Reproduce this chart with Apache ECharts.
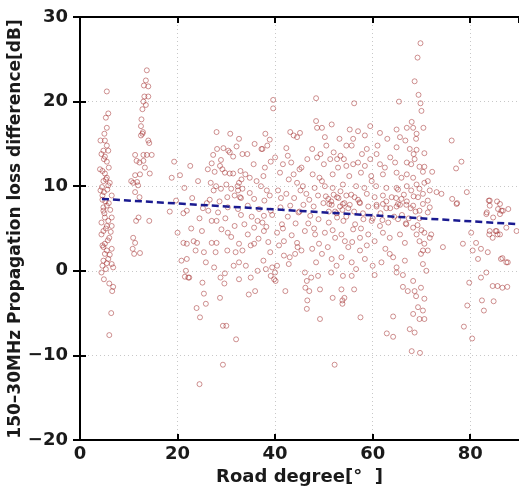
<!DOCTYPE html>
<html><head><meta charset="utf-8">
<script src="https://cdn.jsdelivr.net/npm/echarts@6/dist/echarts.min.js"></script>
<style>html,body{margin:0;padding:0;background:#fff}#c{width:519px;height:488px}</style>
</head><body><div id="c"></div>
<script>
const xTicks = [0,20,40,60,80];
const yTicks = [-20,-10,0,10,20,30];
const trendLine = [[4.5,8.5],[90,5.5]];
const ptsNear5 = [[5.5,21.2],[5.8,18.6],[5.3,18.1],[5.5,16.9],[4.2,15.4],[5.1,15.4],[5.5,14.8],[4.8,14.2],[5.8,14.2],[4.9,13.2],[5.5,12.9],[5.1,13.5],[4.1,12.0],[5.1,11.5],[5.5,11.0],[4.8,10.6],[6.1,10.4],[5.8,10.1],[4.2,9.5],[4.9,9.3],[4.6,8.9],[6.5,8.9],[4.8,7.5],[5.5,7.7],[4.8,7.1],[6.5,6.3],[5.1,6.3],[5.8,5.9],[6.5,5.3],[4.4,5.7],[5.5,5.3],[4.8,4.7],[4.4,4.3],[6.0,3.9],[5.1,3.2],[4.8,2.8],[5.5,2.4],[6.5,2.6],[5.1,2.0],[5.8,1.4],[4.8,1.2],[5.5,0.9],[6.5,0.8],[6.8,0.4],[4.6,0.6],[4.4,-0.2],[4.9,-1.0],[6.0,-1.5],[6.8,-1.9],[6.6,-2.4],[6.4,-5.0],[6.0,-7.6],[5.2,8.2],[5.9,8.0],[4.5,9.9],[5.6,9.6],[6.2,7.2],[5.0,6.8],[4.6,11.8],[5.3,10.8],[5.9,12.2],[4.4,13.8],[6.3,4.6],[5.7,3.6],[4.6,3.0],[6.1,1.9],[5.3,0.2],[5.0,16.2],[4.6,8.4],[5.3,5.0]];
const ptsNear13 = [[13.7,23.7],[13.5,22.5],[13.1,21.9],[14.0,21.8],[14.0,20.6],[13.2,20.6],[13.0,20.0],[13.5,19.6],[12.8,19.1],[12.6,17.9],[12.5,17.1],[12.8,16.2],[12.5,16.0],[14.0,15.4],[14.2,15.1],[11.3,13.7],[13.0,13.7],[13.7,13.7],[14.7,13.7],[11.6,13.0],[12.2,12.8],[13.0,13.0],[19.3,12.9],[14.3,11.5],[11.3,11.3],[12.3,11.4],[11.7,10.5],[10.9,10.4],[10.5,10.6],[11.9,10.1],[18.8,11.0],[11.3,9.3],[12.2,8.7],[19.7,8.3],[12.0,6.3],[11.5,5.9],[14.2,5.9],[10.9,3.9],[11.3,3.3],[10.8,2.6],[11.1,2.0],[12.3,2.1],[18.4,7.0],[12.9,16.4],[13.3,12.2]];
const ptsMid = [[20.0,4.5],[21.2,6.8],[21.9,7.1],[21.2,3.3],[21.9,3.2],[20.8,1.2],[21.9,1.4],[21.7,0],[21.5,-0.7],[22.2,-0.8],[20.5,11.3],[39.6,20.2],[39.6,19.2],[28.0,16.4],[32.6,15.6],[38.0,16.2],[38.9,15.5],[38.4,14.8],[37.2,14.4],[43.1,16.4],[43.8,16.0],[44.5,15.8],[27.3,13.7],[28.1,14.4],[29.4,14.5],[30.4,14.2],[30.7,14.0],[32.1,14.7],[33.3,13.8],[34.3,13.8],[31.4,13.5],[28.9,13.1],[27.0,12.7],[28.7,12.4],[29.7,11.6],[30.7,11.5],[31.4,11.5],[27.6,11.7],[29.2,12.0],[32.9,11.8],[33.9,11.4],[33.1,10.8],[32.6,10.4],[32.3,10.0],[33.3,9.7],[37.4,14.4],[39.1,12.9],[37.9,12.2],[37.6,11.2],[37.1,10.0],[38.3,9.5],[38.9,8.9],[42.3,14.5],[42.6,13.6],[41.6,12.6],[43.3,12.8],[45.0,12.0],[42.8,10.8],[44.5,10.4],[45.2,9.5],[26.8,10.4],[27.9,10.0],[27.4,9.5],[28.9,9.7],[31.0,9.7],[32.4,9.5],[31.7,8.9],[32.8,8.7],[30.2,8.7],[40.6,9.5],[42.3,9.1],[41.2,8.6],[43.9,8.6],[23.0,8.6],[26.6,8.4],[28.6,8.2],[33.0,8.6],[35.7,8.5],[37.8,8.3],[26.3,7.1],[28.3,6.9],[30.3,7.5],[32.4,7.3],[34.4,7.7],[36.7,7.3],[37.7,6.5],[39.1,7.1],[41.1,7.5],[43.1,7.7],[44.8,6.9],[25.0,4.7],[27.0,5.9],[28.0,5.9],[29.0,4.9],[30.3,4.5],[31.7,5.3],[33.7,5.5],[34.4,4.3],[35.7,5.1],[36.4,5.9],[37.4,5.7],[37.7,4.7],[23.3,3.5],[24.0,3.3],[27.0,3.3],[28.0,3.3],[32.6,3.2],[35.0,3.0],[35.7,3.2],[31.9,2.2],[33.3,2.4],[30.2,2.4],[23.7,2.4],[25.4,2.2],[25.8,1.0],[27.5,0.4],[29.7,-0.3],[31.5,0.6],[32.6,1.0],[34.0,0.6],[36.4,0],[38.1,0.2],[39.4,0.4],[40.4,0.6],[41.8,1.8],[42.8,0.8],[44.1,2.0],[44.5,3.3],[41.8,3.5],[40.4,4.5],[41.4,5.5],[22.4,-0.8],[25.1,-1.4],[28.8,-0.8],[29.6,-1.5],[32.6,-1.0],[35.0,-0.8],[39.1,-0.6],[39.8,-1.0],[40.1,-1.2],[25.4,-2.7],[25.8,-3.9],[23.9,-4.4],[24.6,-5.5],[28.7,-3.2],[34.6,-2.8],[35.9,-2.4],[42.1,-2.4],[29.3,-6.5],[30.0,-6.5],[32.0,-8.1],[29.3,-11.1],[24.5,-13.4],[40.0,-0.2],[36.6,3.8],[38.2,5.2],[39.4,6.6],[40.8,3.0],[41.6,5.0],[42.6,6.4],[43.4,4.2],[44.2,5.6],[45.0,7.0],[44.6,2.8],[43.0,1.6],[39.0,2.2],[37.6,1.2],[24.5,6.2],[22.8,5.0],[26.0,8.0],[29.8,6.2],[31.0,4.0],[33.0,6.6],[35.2,6.4],[34.8,9.2],[36.2,10.6],[35.6,12.6],[30.0,10.2],[26.2,12.0],[24.2,10.6],[22.6,12.4],[21.4,9.8],[41.0,11.6],[43.8,11.4],[40.0,13.4],[35.8,15.0],[34.8,11.0],[30.8,16.2],[25.2,7.4],[27.8,2.2],[38.6,3.4]];
const ptsMain = [[48.4,20.4],[56.2,19.8],[65.4,20.0],[59.5,17.1],[48.4,17.7],[51.6,17.3],[48.6,16.9],[49.6,16.9],[45.1,16.3],[50.2,15.8],[55.3,16.7],[57.0,16.5],[58.4,16.0],[56.0,15.6],[61.5,16.3],[64.9,16.7],[67.0,16.9],[65.6,15.8],[66.7,15.4],[50.5,14.8],[54.6,14.8],[55.7,14.8],[58.8,14.4],[60.8,13.8],[59.5,13.2],[64.9,14.6],[63.6,13.4],[47.6,14.4],[49.3,13.8],[48.6,13.4],[52.0,14.0],[53.4,13.6],[51.3,13.2],[52.7,13.2],[54.1,13.2],[57.0,12.8],[56.0,12.6],[58.4,12.4],[61.5,12.6],[62.5,12.2],[64.6,12.8],[67.0,12.8],[45.4,12.2],[47.7,11.4],[49.1,11.0],[51.8,11.4],[52.9,12.2],[54.6,12.4],[57.6,11.6],[59.7,11.2],[62.1,11.4],[64.9,11.6],[65.9,11.0],[67.0,11.4],[45.7,10.0],[48.1,9.8],[50.2,10.0],[51.8,9.8],[53.9,10.2],[56.6,10.0],[58.3,9.8],[60.7,10.0],[62.8,9.8],[64.9,9.8],[67.0,10.0],[46.4,9.1],[48.8,8.9],[50.9,8.5],[52.7,8.7],[54.6,8.9],[56.3,8.7],[58.8,9.1],[60.4,8.7],[62.1,8.9],[63.9,8.7],[65.9,8.5],[51.1,7.9],[53.9,7.9],[57.3,8.1],[62.1,7.9],[65.2,7.9],[45.8,7.8],[47.9,7.6],[49.9,8.0],[51.6,7.8],[53.3,7.6],[55.3,7.8],[57.4,8.0],[59.1,7.6],[60.8,7.8],[62.8,7.4],[64.9,7.6],[66.9,7.8],[47.2,6.5],[48.9,6.1],[51.0,5.7],[52.7,6.3],[54.0,5.9],[56.4,5.5],[58.1,6.1],[59.8,5.9],[61.5,5.3],[63.2,5.7],[65.2,6.1],[66.9,5.5],[46.1,4.7],[48.2,4.3],[50.2,4.5],[52.3,3.9],[53.6,4.3],[54.3,3.5],[56.0,4.9],[57.4,3.9],[59.1,4.3],[60.4,3.5],[62.1,4.5],[63.5,3.9],[65.6,4.3],[66.6,3.3],[45.4,2.4],[47.6,2.6],[49.6,2.0],[51.6,1.4],[53.6,1.6],[55.7,1.0],[57.4,2.4],[58.4,1.4],[61.8,1.0],[63.5,2.0],[64.9,0.4],[66.6,1.2],[46.1,-0.2],[47.4,-0.8],[48.8,-0.6],[51.5,-0.2],[53.9,-0.6],[55.7,-0.6],[60.4,-0.5],[64.9,-0.2],[66.2,-0.5],[46.5,-1.2],[46.2,-2.0],[47.0,-2.4],[49.2,-2.2],[53.6,-2.2],[56.2,-2.2],[51.8,-3.2],[54.2,-3.2],[53.8,-3.5],[46.6,-3.5],[53.8,-3.9],[66.2,-1.9],[67.2,-2.4],[46.5,-4.5],[49.2,-5.7],[57.5,-5.5],[64.2,-5.4],[62.9,-7.4],[64.2,-7.8],[67.6,-6.9],[52.2,-11.1],[68.0,-9.5],[69.7,-9.7],[69.8,26.9],[69.2,25.2],[68.6,22.4],[69.4,20.8],[69.8,19.8],[70.0,18.9],[68.0,17.6],[68.3,16.9],[69.0,16.2],[68.9,15.6],[70.4,16.9],[67.6,14.4],[69.0,14.3],[68.4,13.8],[68.6,13.2],[70.6,13.9],[67.9,12.6],[69.6,12.3],[70.6,12.3],[70.3,11.7],[68.3,11.0],[69.0,10.2],[70.6,10.4],[71.3,10.6],[69.6,9.7],[71.7,9.5],[67.9,9.5],[70.3,9.1],[69.3,8.7],[71.3,8.3],[68.3,7.7],[70.3,7.9],[71.7,7.5],[69.6,7.1],[71.3,6.9],[68.3,5.1],[69.0,4.3],[70.6,4.5],[69.6,3.5],[70.6,3.2],[71.7,3.9],[70.3,2.4],[69.9,2.0],[71.3,2.4],[70.3,0.8],[71.0,0],[68.3,-1.2],[68.6,-2.4],[69.9,-2.0],[68.9,-3.0],[70.6,-3.3],[69.3,-4.3],[70.3,-4.7],[69.6,-5.7],[70.6,-5.7],[68.3,-5.1],[68.6,-7.3],[51.5,8.2],[52.3,7.0],[53.0,8.6],[53.8,7.2],[52.6,6.8],[54.2,8.0],[51.0,7.0],[50.4,8.8],[55.0,7.4],[53.4,9.4],[52.0,9.0],[54.6,6.4],[56.2,7.0],[57.0,8.4],[55.6,9.0],[64.8,8.6],[65.6,7.8],[66.4,9.0],[67.0,8.2],[67.8,7.4],[66.0,6.6],[68.4,8.8],[65.2,9.6],[67.4,6.2],[68.8,7.0],[69.6,6.2],[69.2,5.4],[70.0,4.8],[66.8,5.6],[64.4,6.4],[63.6,7.4],[62.8,8.2],[61.6,6.8],[60.8,7.6],[60.0,6.2],[46.8,5.6],[49.0,3.2],[50.8,2.8],[55.0,2.8],[58.8,3.0],[62.6,2.6],[64.2,1.6],[60.0,0.6],[56.6,0.2],[52.6,0.6],[48.4,1.0],[50.0,12.6],[46.6,13.2],[61.0,14.8],[63.0,15.6],[57.8,13.8],[53.2,15.6],[59.8,10.6],[55.2,11.2],[49.6,10.6],[47.0,8.4],[58.0,6.8],[62.0,6.0],[57.6,5.0],[55.8,3.4],[51.8,4.8],[48.0,5.0]];
const ptsRight = [[76.2,15.4],[78.2,12.9],[77.1,12.1],[72.2,11.7],[73.1,9.3],[79.3,9.3],[76.3,8.5],[77.3,8.0],[83.8,8.3],[85.5,8.2],[77.2,7.9],[84.0,7.7],[86.1,7.9],[86.4,7.1],[87.8,7.3],[83.4,6.9],[86.1,6.7],[72.0,4.3],[74.4,2.8],[78.5,3.2],[80.2,4.5],[81.2,3.3],[80.5,2.4],[82.2,2.6],[83.6,2.2],[81.6,1.4],[83.9,4.3],[85.6,4.3],[85.2,4.7],[84.6,3.9],[86.3,1.4],[87.7,1.0],[83.3,-0.2],[82.2,-0.8],[79.8,-1.4],[84.6,-1.8],[86.6,-2.0],[79.4,-4.1],[82.4,-3.5],[84.8,-3.6],[82.8,-4.7],[78.7,-6.6],[80.4,-8.0],[84.0,8.3],[85.7,7.3],[86.7,7.1],[84.7,6.3],[83.3,6.7],[84.0,4.7],[85.4,4.7],[86.1,4.3],[87.4,5.1],[89.5,4.7],[74.1,9.1],[87.4,1.0],[86.6,1.5],[85.6,-1.8],[87.6,-1.9]];

const yAxisTitle = '150\u201330MHz Propagation loss difference[dB]';
const allPts = ptsNear5.concat(ptsNear13, ptsMid, ptsMain, ptsRight);
const FONT = 'DejaVu Sans';
const chart = echarts.init(document.getElementById('c'), null, {renderer:'canvas'});
const tickStyle = {show:true, inside:true, length:6, lineStyle:{color:'#000', width:2}};
chart.setOption({
  animation:false,
  backgroundColor:'#fff',
  grid:{left:80, top:17, right:0, bottom:48, containLabel:false, outerBoundsMode:'none'},
  graphic:[{
    type:'text', x:16, y:229, rotation:Math.PI/2, silent:true,
    style:{text:yAxisTitle, align:'center', verticalAlign:'middle',
      font:'bold 17px "DejaVu Sans"', fill:'#1a1a1a'}
  }],
  xAxis:[{
    type:'value', min:0, max:90, interval:20, position:'bottom',
    name:'Road degree[°  ]', nameLocation:'middle', nameGap:23,
    nameTextStyle:{fontFamily:FONT, fontSize:18, fontWeight:'bold', color:'#1a1a1a'},
    axisLine:{show:true, onZero:false, lineStyle:{color:'#000', width:2}},
    axisTick:tickStyle,
    axisLabel:{fontFamily:FONT, fontSize:18, fontWeight:'bold', color:'#1a1a1a', margin:5, showMaxLabel:false,
      formatter:v=> xTicks.includes(v)? String(v):''},
    splitLine:{show:true, lineStyle:{color:'#c8c8c8', type:[1,3], width:1}}
  },{
    type:'value', min:0, max:90, interval:20, position:'top',
    axisLine:{show:true, onZero:false, lineStyle:{color:'#000', width:2}},
    axisTick:tickStyle, axisLabel:{show:false}, splitLine:{show:false}
  }],
  yAxis:[{
    type:'value', min:-20, max:30, interval:10, position:'left',
    axisLine:{show:true, onZero:false, lineStyle:{color:'#000', width:2}},
    axisTick:tickStyle,
    axisLabel:{fontFamily:FONT, fontSize:18, fontWeight:'bold', color:'#1a1a1a', margin:12,
      formatter:v=> yTicks.includes(v)? String(v).replace('-', '\u2212'):''},
    splitLine:{show:true, lineStyle:{color:'#c8c8c8', type:[1,3], width:1}}
  },{
    type:'value', min:-20, max:30, interval:10, position:'right',
    axisLine:{show:false}, axisTick:{show:true, inside:true, length:7, lineStyle:{color:'#000', width:2}},
    axisLabel:{show:false}, splitLine:{show:false}
  }],
  series:[{
    type:'scatter', data:allPts, symbol:'circle', symbolSize:5,
    itemStyle:{color:'rgba(0,0,0,0)', borderColor:'rgba(160,40,40,0.8)', borderWidth:0.8},
    z:2
  },{
    type:'line', data:trendLine, symbol:'none',
    lineStyle:{color:'#1a1a90', width:2.5, type:[7,4]}, z:3
  }]
});
</script></body></html>
